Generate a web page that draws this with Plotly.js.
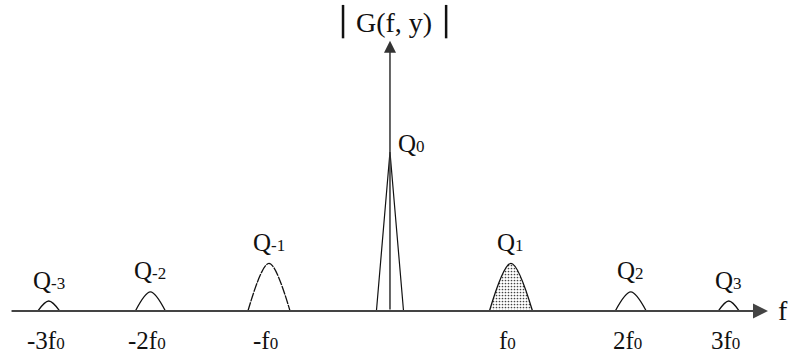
<!DOCTYPE html>
<html><head><meta charset="utf-8">
<script src="https://cdn.plot.ly/plotly-3.0.1.min.js"></script>
<style>html,body{margin:0;padding:0;background:#fff}#chart{width:790px;height:360px}</style>
</head><body><div id="chart"></div>
<script>
// Side lobes Q-3 ... Q3 (x in units of f0, y relative to Q0)
const lobeNames   = ['-3', '-2', '-1', '1', '2', '3'];
const lobeCenters = [-2.82, -1.98, -1.0, 1.0, 1.99, 2.80];
const lobeHeights = [0.063, 0.12, 0.30, 0.30, 0.12, 0.063];
const lobeHalfW   = [0.091, 0.124, 0.174, 0.178, 0.128, 0.087];
// Central peak Q0
const q0Height = 1.0;
const q0HalfW  = 0.112;
// Tick labels on the f axis
const tickVals  = [-2.82, -1.98, -1.0, 1.0, 1.99, 2.80];
const tickMain  = ['-3f', '-2f', '-f', 'f', '2f', '3f'];
const tickSub   = ['0', '0', '0', '0', '0', '0'];
// Axis extents
const fAxisStart = -3.14, fAxisEnd = 3.124;
const gAxisTop = 1.70;

const FONT = 'Liberation Serif, Times New Roman, serif';
const sub = s => '<span style="font-size:68%">' + s + '</span>';
const traces = [];
lobeCenters.forEach((c, i) => {
  const w = lobeHalfW[i], h = lobeHeights[i];
  const t = {
    x: [c - w, c, c + w], y: [0, h, 0],
    mode: 'lines', type: 'scatter',
    line: {shape: 'spline', color: '#111', width: 1.3},
    hoverinfo: 'skip', showlegend: false
  };
  if (lobeNames[i] === '1') {
    t.fill = 'toself';
    t.fillcolor = 'white';
    t.fillpattern = {shape: '.', size: 3, solidity: 0.25, fgcolor: '#444', bgcolor: 'white'};
  }
  if (lobeNames[i] === '-1') {
    t.line.dash = '9px,1px';
  }
  traces.push(t);
});
traces.push({
  x: [-q0HalfW, 0, q0HalfW], y: [0, q0Height, 0],
  mode: 'lines', type: 'scatter',
  line: {color: '#111', width: 1.2}, hoverinfo: 'skip', showlegend: false
});

const annotations = [];
// axes arrows
annotations.push({x: fAxisEnd, y: 0, ax: fAxisStart, ay: 0, xref: 'x', yref: 'y', axref: 'x', ayref: 'y',
  showarrow: true, arrowhead: 2, arrowsize: 1.5, arrowwidth: 2, arrowcolor: '#444', text: ''});
annotations.push({x: 0, y: gAxisTop, ax: 0, ay: 0, xref: 'x', yref: 'y', axref: 'x', ayref: 'y',
  showarrow: true, arrowhead: 2, arrowsize: 1.6, arrowwidth: 1.5, arrowcolor: '#333', text: ''});
// tick labels
tickVals.forEach((v, i) => annotations.push({x: v, y: 0, xref: 'x', yref: 'y', text: tickMain[i] + sub(tickSub[i]),
  showarrow: false, yshift: -29, xshift: -3, xanchor: 'center', yanchor: 'middle', font: {family: FONT, size: 25, color: '#111'}}));
// lobe labels
lobeCenters.forEach((c, i) => annotations.push({x: c, y: lobeHeights[i], xref: 'x', yref: 'y',
  text: 'Q' + sub(lobeNames[i]), showarrow: false, yshift: 21, xanchor: 'center', yanchor: 'middle',
  font: {family: FONT, size: 25, color: '#111'}}));
annotations.push({x: 0, y: q0Height, xref: 'x', yref: 'y', text: 'Q' + sub('0'), showarrow: false,
  xshift: 22, yshift: 9, xanchor: 'center', yanchor: 'middle', font: {family: FONT, size: 25, color: '#111'}});
// axis names
annotations.push({x: fAxisEnd, y: 0, xref: 'x', yref: 'y', text: 'f', showarrow: false, xshift: 15, yshift: 1,
  xanchor: 'center', yanchor: 'middle', font: {family: FONT, size: 28, color: '#111'}});
annotations.push({x: 0, y: gAxisTop, xref: 'x', yref: 'y', text: 'G(f, y)', showarrow: false, xshift: 4, yshift: 18,
  xanchor: 'center', yanchor: 'middle', font: {family: FONT, size: 28, color: '#111'}});

const shapes = [
  {type: 'line', xref: 'x', yref: 'y', x0: -0.388, x1: -0.388, y0: 1.715, y1: 1.925, line: {color: '#111', width: 2.5}},
  {type: 'line', xref: 'x', yref: 'y', x0: 0.464, x1: 0.464, y0: 1.715, y1: 1.925, line: {color: '#111', width: 2.5}}
];

const layout = {
  width: 790, height: 360,
  margin: {l: 0, r: 0, t: 0, b: 0},
  paper_bgcolor: 'white', plot_bgcolor: 'white',
  xaxis: {range: [-3.223, 3.306], visible: false, fixedrange: true},
  yaxis: {range: [-0.308, 1.956], visible: false, fixedrange: true},
  annotations: annotations, shapes: shapes, showlegend: false
};
Plotly.newPlot('chart', traces, layout, {staticPlot: true});
</script></body></html>
